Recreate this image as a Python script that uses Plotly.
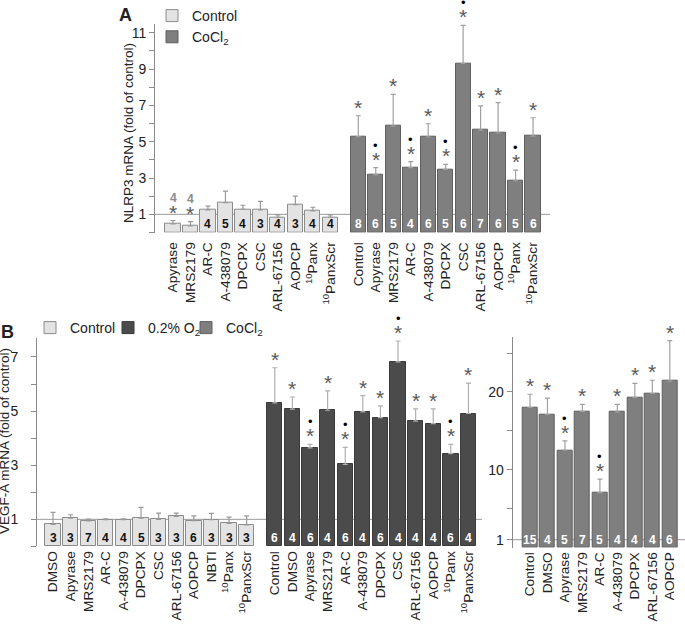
import plotly.graph_objects as go

# ---------------- Data ----------------
# Panel A: NLRP3 mRNA
A_ctrl_labels = ["Apyrase", "MRS2179", "AR-C", "A-438079", "DPCPX", "CSC",
                 "ARL-67156", "AOPCP", "<sup>10</sup>Panx", "<sup>10</sup>PanxScr"]
A_ctrl_mean = [0.48, 0.37, 1.25, 1.64, 1.28, 1.25, 0.83, 1.54, 1.19, 0.84]
A_ctrl_err = [0.18, 0.23, 0.20, 0.64, 0.22, 0.46, 0.14, 0.46, 0.20, 0.13]
A_ctrl_n = [4, 4, 4, 5, 4, 3, 4, 3, 4, 4]
A_ctrl_star = [1, 1, 0, 0, 0, 0, 0, 0, 0, 0]
A_ctrl_dot = [0] * 10

A_cocl_labels = ["Control", "Apyrase", "MRS2179", "AR-C", "A-438079", "DPCPX", "CSC",
                 "ARL-67156", "AOPCP", "<sup>10</sup>Panx", "<sup>10</sup>PanxScr"]
A_cocl_mean = [5.28, 3.17, 5.86, 3.57, 5.26, 3.48, 9.32, 5.64, 5.48, 2.85, 5.31]
A_cocl_err = [1.15, 0.40, 1.75, 0.33, 0.73, 0.27, 2.09, 1.33, 1.67, 0.59, 1.01]
A_cocl_n = [8, 6, 5, 4, 6, 5, 6, 7, 6, 5, 6]
A_cocl_star = [1] * 11
A_cocl_dot = [0, 1, 0, 1, 0, 1, 1, 0, 0, 1, 0]

# Panel B: VEGF-A mRNA
B_ctrl_labels = ["DMSO", "Apyrase", "MRS2179", "AR-C", "A-438079", "DPCPX", "CSC",
                 "ARL-67156", "AOPCP", "NBTI", "<sup>10</sup>Panx", "<sup>10</sup>PanxScr"]
B_ctrl_mean = [0.81, 1.04, 0.94, 0.99, 0.99, 1.04, 1.00, 1.11, 0.95, 0.99, 0.85, 0.79]
B_ctrl_err = [0.45, 0.13, 0.07, 0.03, 0.03, 0.40, 0.23, 0.12, 0.18, 0.23, 0.23, 0.34]
B_ctrl_n = [3, 3, 7, 4, 4, 5, 3, 3, 6, 3, 3, 3]

B_hyp_labels = ["Control", "DMSO", "Apyrase", "MRS2179", "AR-C", "A-438079", "DPCPX", "CSC",
                "ARL-67156", "AOPCP", "<sup>10</sup>Panx", "<sup>10</sup>PanxScr"]
B_hyp_mean = [5.30, 5.07, 3.64, 5.03, 3.03, 4.97, 4.76, 6.82, 4.63, 4.54, 3.43, 4.91]
B_hyp_err = [1.30, 0.45, 0.13, 0.72, 0.63, 0.60, 0.43, 0.77, 0.45, 0.54, 0.34, 1.12]
B_hyp_n = [6, 4, 6, 4, 6, 4, 6, 4, 4, 4, 6, 4]
B_hyp_star = [1] * 12
B_hyp_dot = [0, 0, 1, 0, 1, 0, 0, 1, 0, 0, 1, 0]

B_cocl_labels = ["Control", "DMSO", "Apyrase", "MRS2179", "AR-C", "A-438079", "DPCPX",
                 "ARL-67156", "AOPCP"]
B_cocl_mean = [18.0, 17.1, 12.5, 17.5, 7.05, 17.4, 19.3, 19.8, 21.4]
B_cocl_err = [1.7, 2.1, 1.2, 0.9, 1.75, 1.0, 1.8, 1.7, 5.2]
B_cocl_n = [15, 4, 5, 7, 5, 4, 4, 4, 6]
B_cocl_star = [1] * 9
B_cocl_dot = [0, 0, 1, 0, 1, 0, 0, 0, 0]

# ---------------- Styling ----------------
FONT = "Liberation Sans, Arial, sans-serif"
C_CTRL, L_CTRL = "#e3e3e3", "#8c8c8c"
C_HYP, L_HYP = "#4b4b4b", "#3a3a3a"
C_COCL, L_COCL = "#7f7f7f", "#5f5f5f"
AXC = "#8a8a8a"
BW = 0.87
A_GAP = 10.6   # position of the first CoCl2 bar in panel A
B_GAP = 12.6   # position of the first hypoxia bar in panel B
W, H = 685, 625

fig = go.Figure()
annotations = []


def add_group(xs, mean, err, n, name, fill, line, xa, ya, legend, showlegend,
              ncolor, star=None, dot=None, n_above=None, errcol="#999999"):
    fig.add_trace(go.Bar(
        x=xs, y=mean, width=BW, name=name, legend=legend, showlegend=showlegend,
        marker=dict(color=fill, line=dict(color=line, width=1)),
        error_y=dict(type="data", symmetric=False, array=err,
                     arrayminus=[0] * len(err), color=errcol, thickness=1.2, width=2.5),
        xaxis=xa, yaxis=ya, hoverinfo="skip"))
    for i, x in enumerate(xs):
        top = mean[i] + err[i]
        above = n_above is not None and n_above[i]
        if not above:
            annotations.append(dict(x=x, y=0, xref=xa, yref=ya, text="<b>%d</b>" % n[i],
                                    showarrow=False, yanchor="bottom", yshift=-1,
                                    font=dict(family=FONT, size=12, color=ncolor)))
        if star is not None and star[i]:
            annotations.append(dict(x=x, y=top, xref=xa, yref=ya, text="*",
                                    showarrow=False, yanchor="bottom", yshift=-5,
                                    font=dict(family=FONT, size=21, color="#5a5a5a")))
        if dot is not None and dot[i]:
            annotations.append(dict(x=x, y=top, xref=xa, yref=ya, text="•",
                                    showarrow=False, yanchor="bottom", yshift=13,
                                    font=dict(family=FONT, size=13, color="#000000")))
        if above:
            annotations.append(dict(x=x, y=top, xref=xa, yref=ya, text="<b>%d</b>" % n[i],
                                    showarrow=False, yanchor="bottom", yshift=14,
                                    font=dict(family=FONT, size=12, color="#8a8a8a")))


A_ctrl_x = list(range(len(A_ctrl_mean)))
A_cocl_x = [A_GAP + i for i in range(len(A_cocl_mean))]
B_ctrl_x = list(range(len(B_ctrl_mean)))
B_hyp_x = [B_GAP + i for i in range(len(B_hyp_mean))]
B_cocl_x = list(range(len(B_cocl_mean)))

add_group(A_ctrl_x, A_ctrl_mean, A_ctrl_err, A_ctrl_n, "Control", C_CTRL, L_CTRL,
          "x", "y", "legend", True, "#111111", A_ctrl_star, A_ctrl_dot,
          n_above=[1, 1, 0, 0, 0, 0, 0, 0, 0, 0])
add_group(A_cocl_x, A_cocl_mean, A_cocl_err, A_cocl_n, "CoCl<sub>2</sub>", C_COCL, L_COCL,
          "x", "y", "legend", True, "#ffffff", A_cocl_star, A_cocl_dot, errcol="#a0a0a0")
add_group(B_ctrl_x, B_ctrl_mean, B_ctrl_err, B_ctrl_n, "Control", C_CTRL, L_CTRL,
          "x2", "y2", "legend2", True, "#111111")
add_group(B_hyp_x, B_hyp_mean, B_hyp_err, B_hyp_n, "0.2% O<sub>2</sub>", C_HYP, L_HYP,
          "x2", "y2", "legend2", True, "#ffffff", B_hyp_star, B_hyp_dot, errcol="#b0b0b0")
add_group(B_cocl_x, B_cocl_mean, B_cocl_err, B_cocl_n, "CoCl<sub>2</sub>", C_COCL, L_COCL,
          "x3", "y3", "legend2", True, "#ffffff", B_cocl_star, B_cocl_dot, errcol="#a0a0a0")


def paper_text(x, y, text, size, bold=False, angle=0):
    return dict(x=x / W, y=1 - y / H, xref="paper", yref="paper",
                text=("<b>%s</b>" % text) if bold else text, textangle=angle,
                showarrow=False, xanchor="center", yanchor="middle",
                font=dict(family=FONT, size=size, color="#222"))


# panel letters and y-axis titles
annotations.append(paper_text(125, 15, "A", 18, bold=True))
annotations.append(paper_text(8, 332, "B", 18, bold=True))
annotations.append(paper_text(128, 133, "NLRP3 mRNA (fold of control)", 13.5, angle=-90))
annotations.append(paper_text(4, 441, "VEGF-A mRNA (fold of control)", 13.5, angle=-90))

# reference lines at 1
shapes = []
for xa, ya in (("x", "y"), ("x2", "y2"), ("x3", "y3")):
    shapes.append(dict(type="line", xref=xa + " domain", yref=ya, x0=0, x1=1, y0=1, y1=1,
                       line=dict(color="#999999", width=1), layer="below"))

tickfont = dict(family=FONT, size=14, color="#222")
xtickfont = dict(family=FONT, size=13.7, color="#222")


def xaxis(domain, rng, tv, tt, anchor, lstand):
    return dict(domain=domain, range=rng, tickvals=tv, ticktext=tt, tickangle=-90,
                showline=False, ticks="", showgrid=False, zeroline=False,
                tickfont=xtickfont, anchor=anchor, ticklabelstandoff=lstand, automargin=False)


def yaxis(domain, rng, tv, tt, anchor, lstand=0):
    return dict(domain=domain, range=rng, tickvals=tv, ticktext=tt, showline=True,
                linecolor=AXC, linewidth=1, ticks="outside", ticklen=5, tickcolor=AXC,
                showgrid=False, zeroline=False, tickfont=tickfont, anchor=anchor,
                ticklabelstandoff=lstand, automargin=False)


A_tv = list(range(0, 12))
A_tt = ["" if v % 2 == 0 else str(v) for v in A_tv]
B_tv = list(range(0, 8))
B_tt = ["" if v % 2 == 0 else str(v) for v in B_tv]
C_tv = [1, 5, 10, 15, 20, 25]
C_tt = ["1", "", "10", "", "20", ""]

fig.update_layout(
    width=W, height=H, margin=dict(l=0, r=0, t=0, b=0, autoexpand=False),
    paper_bgcolor="white", plot_bgcolor="white",
    font=dict(family=FONT, color="#222"),
    bargap=0, barmode="overlay",
    xaxis=xaxis([155 / W, 550 / W], [-1.03, 21.57],
                A_ctrl_x + A_cocl_x, A_ctrl_labels + A_cocl_labels, "y", 6),
    yaxis=yaxis([1 - 232.5 / H, 1 - 23.7 / H], [0, 11.5], A_tv, A_tt, "x"),
    xaxis2=xaxis([37 / W, 482 / W], [-0.91, 24.37],
                 B_ctrl_x + B_hyp_x, B_ctrl_labels + B_hyp_labels, "y2", 1),
    yaxis2=yaxis([1 - 546.4 / H, 1 - 338 / H], [0, 7.7], B_tv, B_tt, "x2", lstand=10),
    xaxis3=xaxis([512.7 / W, 1.0], [-0.99, 8.87], B_cocl_x, B_cocl_labels, "y3", 1),
    yaxis3=yaxis([1 - 547.5 / H, 1 - 336.7 / H], [0, 27.1], C_tv, C_tt, "x3"),
    legend=dict(x=152 / W, y=1.0, xanchor="left", yanchor="top",
                orientation="v", font=dict(family=FONT, size=14, color="#222"),
                bgcolor="rgba(0,0,0,0)", itemclick=False, tracegroupgap=0),
    legend2=dict(x=30 / W, y=1 - 312 / H, xanchor="left", yanchor="top",
                 orientation="h", font=dict(family=FONT, size=14, color="#222"),
                 bgcolor="rgba(0,0,0,0)", itemclick=False, entrywidth=33),
    annotations=annotations, shapes=shapes,
)

fig.write_html("out.html", config={"displayModeBar": False},
               post_script="document.body.style.margin='0px';")
